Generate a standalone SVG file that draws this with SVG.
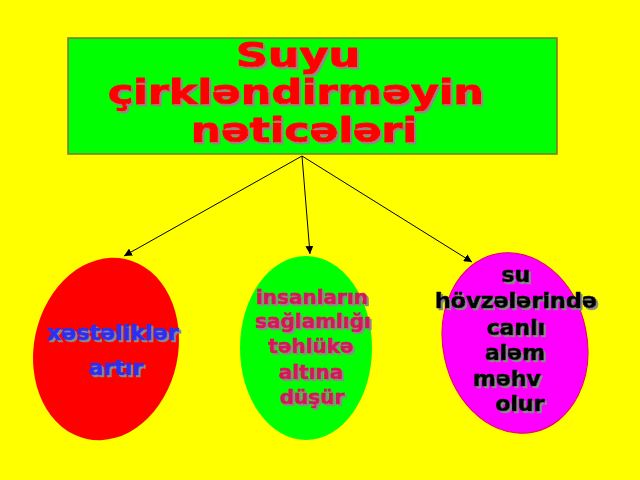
<svg xmlns="http://www.w3.org/2000/svg" width="640" height="480" viewBox="0 0 640 480">
<style>
  .t { font-family: "DejaVu Sans", "Liberation Sans", sans-serif; font-weight: bold; text-anchor: middle; filter: url(#sh); stroke-width: 0.7; stroke-linejoin: round; }
  .title { font-size: 33px; fill: #FF0000; stroke: #FF0000; stroke-width: 1; }
  .red { font-size: 22px; fill: #2E2EF0; stroke: #2E2EF0; }
  .grn { font-size: 20px; fill: #D4145A; stroke: #D4145A; }
  .mag { font-size: 22px; fill: #000000; stroke: #000000; }
  .conn { stroke: #000; stroke-width: 1; fill: none; marker-end: url(#ah); }
</style>
<defs>
  <filter id="sh" x="-10%" y="-20%" width="130%" height="150%">
    <feDropShadow dx="2" dy="2" stdDeviation="0.4" flood-color="#8a8a8a" flood-opacity="1"/>
  </filter>
  <marker id="ah" viewBox="0 0 10 10" refX="10" refY="5" markerWidth="8" markerHeight="8" markerUnits="userSpaceOnUse" orient="auto">
    <path d="M0,0 L10,5 L0,10 z" fill="#000"/>
  </marker>
</defs>
<rect width="640" height="480" fill="#FFFF00"/>

<g id="title">
  <rect x="68" y="38" width="489" height="116" fill="#00FF00" stroke="#7A7A20" stroke-width="1.5"/>
  <text class="t title" x="298" y="67" textLength="124" lengthAdjust="spacingAndGlyphs">Suyu</text>
  <text class="t title" x="296" y="104" textLength="376" lengthAdjust="spacingAndGlyphs">çirkləndirməyin</text>
  <text class="t title" x="304" y="142" textLength="226" lengthAdjust="spacingAndGlyphs">nəticələri</text>
</g>

<g id="connectors">
  <line class="conn" x1="302" y1="156" x2="124" y2="256"/>
  <line class="conn" x1="302" y1="156" x2="310" y2="254"/>
  <line class="conn" x1="302" y1="156" x2="472" y2="262"/>
</g>

<g id="node-xestelikler">
  <ellipse cx="106" cy="349" rx="72" ry="92" transform="rotate(12 106 349)" fill="#FF0000"/>
  <text class="t red" x="113" y="340" textLength="132" lengthAdjust="spacingAndGlyphs">xəstəliklər</text>
  <text class="t red" x="116" y="375">artır</text>
</g>

<g id="node-insanlarin">
  <ellipse cx="306" cy="348" rx="66" ry="92" fill="#00FF00"/>
  <text class="t grn" x="312" y="304">insanların</text>
  <text class="t grn" x="313" y="328">sağlamlığı</text>
  <text class="t grn" x="311" y="353">təhlükə</text>
  <text class="t grn" x="311" y="379">altına</text>
  <text class="t grn" x="312" y="404">düşür</text>
</g>

<g id="node-su">
  <ellipse cx="515" cy="343" rx="72" ry="91" transform="rotate(-12 515 343)" fill="#FF00FF" stroke="#E0006A" stroke-width="1"/>
  <text class="t mag" x="516" y="282">su</text>
  <text class="t mag" x="516" y="308" textLength="162" lengthAdjust="spacingAndGlyphs">hövzələrində</text>
  <text class="t mag" x="516" y="335">canlı</text>
  <text class="t mag" x="515" y="360">aləm</text>
  <text class="t mag" x="507" y="386">məhv</text>
  <text class="t mag" x="520" y="411">olur</text>
</g>
</svg>
